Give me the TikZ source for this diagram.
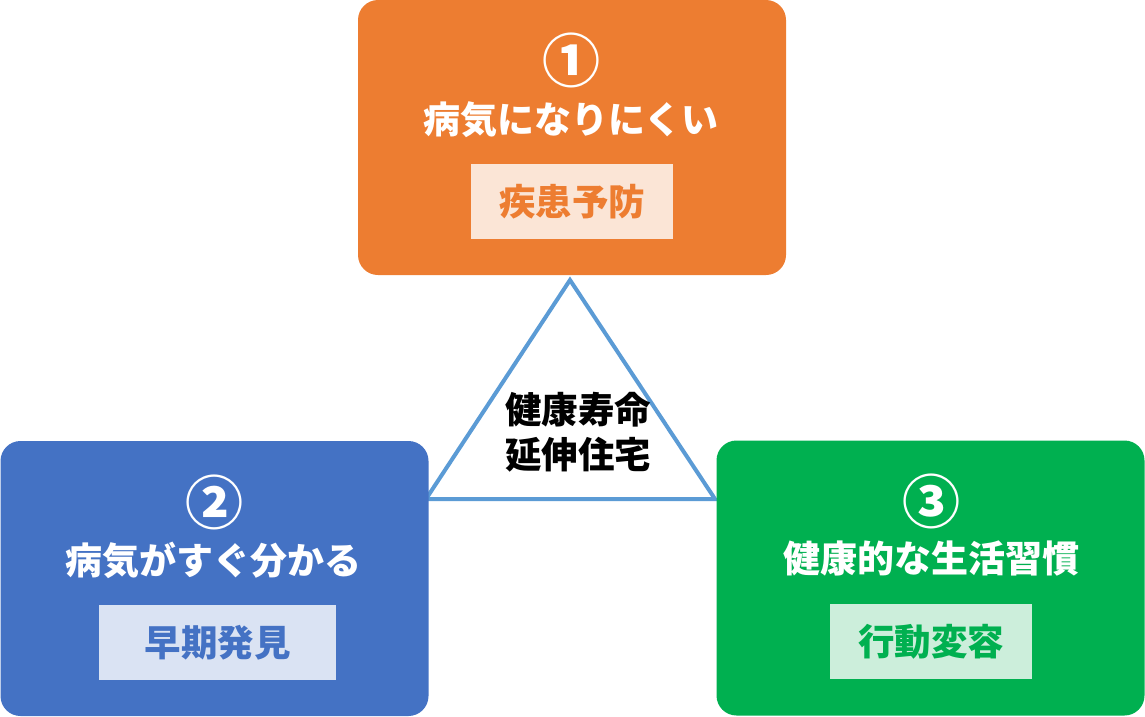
\documentclass[tikz,border=0pt]{standalone}
\usepackage{fontspec}
\newfontfamily\jp{Noto Sans CJK JP}
\definecolor{orA}{HTML}{ED7D31}
\definecolor{orB}{HTML}{FBE5D6}
\definecolor{blA}{HTML}{4472C4}
\definecolor{blB}{HTML}{DAE3F3}
\definecolor{grA}{HTML}{00B050}
\definecolor{grB}{HTML}{CCEEDB}
\definecolor{triC}{HTML}{5B9BD5}
\tikzset{
  bigbox/.style={rounded corners=20pt, minimum width=428pt, minimum height=275pt, inner sep=0pt, draw=none},
  subbox/.style={minimum width=#1, minimum height=75pt, inner sep=0pt, font=\jp\bfseries\fontsize{36.5}{40}\selectfont},
  numtxt/.style={text=white, inner sep=0pt, font=\jp\bfseries\fontsize{58}{60}\selectfont},
  titletxt/.style={text=white, inner sep=0pt, font=\jp\bfseries\fontsize{37}{40}\selectfont},
  centertxt/.style={text=black, inner sep=0pt, align=center, font=\jp\bfseries\fontsize{36.5}{45}\selectfont}
}
\begin{document}
\begin{tikzpicture}[x=1pt,y=-1pt]
\useasboundingbox (0,0) rectangle (1145,716);
% triangle (behind boxes)
\coordinate (tA) at (570,280);
\coordinate (tB) at (426,499);
\coordinate (tC) at (715,499);
\draw[triC, line width=4pt, line join=miter] (tA) -- (tB) -- (tC) -- cycle;
\node[centertxt] (ctr) at (578,432) {健康寿命\\延伸住宅};
% box 1
\node[bigbox, fill=orA] (b1) at (572,137.5) {};
\node[numtxt] (n1) at (571,60) {①};
\node[titletxt] (t1) at (571,120) {病気になりにくい};
\node[subbox=202pt, fill=orB, text=orA] (s1) at (572,201.5) {疾患予防};
% box 2
\node[bigbox, fill=blA] (b2) at (214.5,578.5) {};
\node[numtxt] (n2) at (214,502) {②};
\node[titletxt] (t2) at (213,560) {病気がすぐ分かる};
\node[subbox=237pt, fill=blB, text=blA] (s2) at (217.5,642.5) {早期発見};
% box 3
\node[bigbox, fill=grA] (b3) at (930.5,578) {};
\node[numtxt] (n3) at (931,501) {③};
\node[titletxt] (t3) at (931,559) {健康的な生活習慣};
\node[subbox=202pt, fill=grB, text=grA] (s3) at (931,641.5) {行動変容};
\end{tikzpicture}
\end{document}
